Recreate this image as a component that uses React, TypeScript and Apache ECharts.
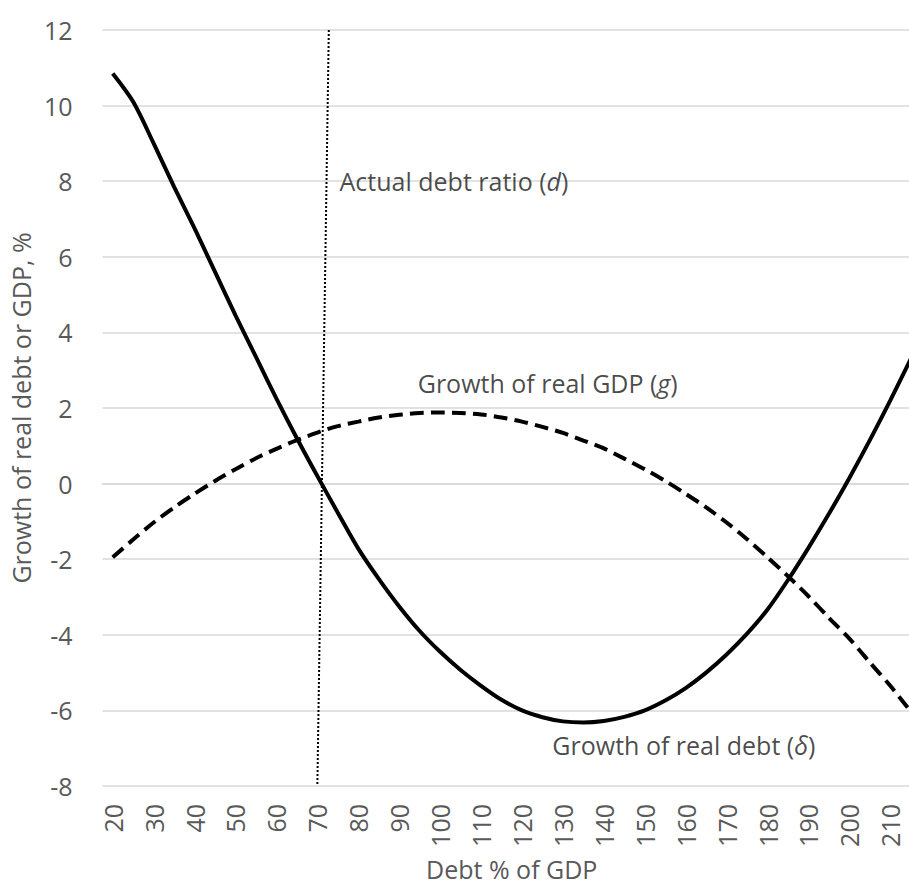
import React, { useEffect, useRef } from 'react';
import * as echarts from 'echarts';

// Debt % of GDP (category points every 5)
const debtCategories = [
  '20', '25', '30', '35', '40', '45', '50', '55', '60', '65',
  '70', '75', '80', '85', '90', '95', '100', '105', '110', '115',
  '120', '125', '130', '135', '140', '145', '150', '155', '160', '165',
  '170', '175', '180', '185', '190', '195', '200', '205', '210', '215',
];

// Growth of real debt (delta), %
const realDebtGrowth = [
  10.85, 10.1, 9.0, 7.85, 6.75, 5.6, 4.45, 3.35, 2.25, 1.2,
  0.2, -0.77, -1.72, -2.52, -3.25, -3.9, -4.45, -4.93, -5.35, -5.72,
  -6.0, -6.18, -6.29, -6.32, -6.28, -6.17, -6.0, -5.74, -5.41, -5.0,
  -4.52, -3.97, -3.33, -2.55, -1.7, -0.8, 0.15, 1.15, 2.2, 3.3,
];

// Growth of real GDP (g), %
const realGdpGrowth = [
  -1.95, -1.48, -1.03, -0.63, -0.27, 0.07, 0.38, 0.67, 0.92, 1.15,
  1.35, 1.52, 1.64, 1.75, 1.82, 1.87, 1.88, 1.87, 1.83, 1.75,
  1.64, 1.5, 1.34, 1.14, 0.93, 0.66, 0.38, 0.07, -0.27, -0.63,
  -1.03, -1.47, -1.95, -2.45, -2.98, -3.55, -4.1, -4.73, -5.35, -6.03,
];

// Actual debt ratio (d) marker line: [debt %, growth %]
const actualDebtRatioLine = [
  [72.8, 12],
  [70.0, -8],
];

const yTicks = { min: -8, max: 12, interval: 2 };

const annotationTexts = [
  { pre: 'Actual debt ratio (', sym: 'd', post: ')' },
  { pre: 'Growth of real GDP (', sym: 'g', post: ')' },
  { pre: 'Growth of real debt (', sym: 'δ', post: ')' },
];
const annotationAnchors = [
  [75.3, 8.0],
  [94.4, 2.65],
  [127.3, -6.92],
];

const FONT = 'Open Sans';
const AXIS_GREY = '#595959';
const TEXT_DARK = '#1a1a1a';
const FS = 25;

export default function App() {
  const ref = useRef<HTMLDivElement>(null);

  useEffect(() => {
    document.body.style.margin = '0';
    if (!ref.current) return;
    const chart = echarts.init(ref.current, undefined, { renderer: 'svg' });

    const annotationData = annotationTexts.map((t, i) => ({
      value: annotationAnchors[i],
      label: {
        formatter: `{n|${t.pre}}{i|${t.sym}}{n|${t.post}}`,
      },
    }));

    chart.setOption({
      animation: false,
      backgroundColor: '#ffffff',
      grid: { left: 102, right: 0, top: 30, bottom: 99, containLabel: false },
      xAxis: [
        {
          type: 'category',
          data: debtCategories,
          boundaryGap: true,
          axisLine: { show: true, lineStyle: { color: '#d9d9d9', width: 1.5 } },
          axisTick: { show: false },
          axisLabel: {
            interval: 1,
            rotate: 90,
            margin: 18,
            color: AXIS_GREY,
            fontFamily: FONT,
            fontSize: FS,
          },
          splitLine: { show: false },
          name: 'Debt % of GDP',
          nameLocation: 'middle',
          nameGap: 70,
          nameTextStyle: { color: AXIS_GREY, fontFamily: FONT, fontSize: FS },
        },
        {
          type: 'value',
          min: 17.5,
          max: 217.5,
          show: false,
        },
      ],
      yAxis: {
        type: 'value',
        min: yTicks.min,
        max: yTicks.max,
        interval: yTicks.interval,
        axisLine: { show: false },
        axisTick: { show: false },
        axisLabel: { margin: 30, color: AXIS_GREY, fontFamily: FONT, fontSize: FS },
        splitLine: { lineStyle: { color: '#d9d9d9', width: 1.5 } },
        name: 'Growth of real debt or GDP, %',
        nameLocation: 'middle',
        nameGap: 68,
        nameTextStyle: { color: AXIS_GREY, fontFamily: FONT, fontSize: FS },
      },
      series: [
        {
          name: 'Actual debt ratio (d)',
          type: 'line',
          xAxisIndex: 1,
          data: actualDebtRatioLine,
          symbol: 'none',
          lineStyle: { color: '#000000', width: 2, type: [2, 2] },
          silent: true,
          z: 3,
        },
        {
          name: 'Growth of real GDP (g)',
          type: 'line',
          data: realGdpGrowth,
          symbol: 'none',
          smooth: 0.3,
          lineStyle: { color: '#000000', width: 4, type: [14, 7], cap: 'butt' },
          silent: true,
          z: 4,
        },
        {
          name: 'Growth of real debt (δ)',
          type: 'line',
          data: realDebtGrowth,
          symbol: 'none',
          smooth: 0.3,
          lineStyle: { color: '#000000', width: 4 },
          silent: true,
          z: 5,
        },
        {
          name: 'labels',
          type: 'scatter',
          xAxisIndex: 1,
          data: annotationData,
          symbolSize: 1,
          itemStyle: { color: 'rgba(0,0,0,0)' },
          silent: true,
          label: {
            show: true,
            position: 'right',
            distance: 0,
            color: TEXT_DARK,
            fontFamily: FONT,
            fontSize: FS,
            rich: {
              n: { fontFamily: FONT, fontSize: FS, color: TEXT_DARK },
              i: { fontFamily: FONT, fontSize: FS, color: TEXT_DARK, fontStyle: 'italic' },
            },
          },
          z: 6,
        },
      ],
    });

    return () => chart.dispose();
  }, []);

  return (
    <div style={{ position: 'absolute', left: 0, top: 0, width: 909, height: 886, overflow: 'hidden' }}>
      <div ref={ref} style={{ width: 921, height: 886 }} />
    </div>
  );
}
